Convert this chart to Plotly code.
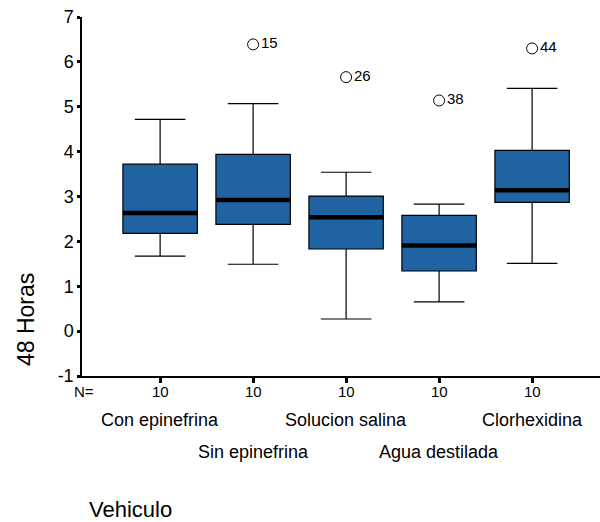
import plotly.graph_objects as go

categories = ["Con epinefrina", "Sin epinefrina", "Solucion salina", "Agua destilada", "Clorhexidina"]
n_values = [10, 10, 10, 10, 10]
lower_whisker = [1.67, 1.49, 0.27, 0.65, 1.51]
q1_values = [2.18, 2.38, 1.83, 1.34, 2.87]
median_values = [2.63, 2.92, 2.54, 1.91, 3.14]
q3_values = [3.72, 3.94, 3.01, 2.58, 4.03]
upper_whisker = [4.72, 5.07, 3.54, 2.83, 5.41]
outlier_x = [2, 3, 4, 5]
outlier_y = [6.39, 5.66, 5.14, 6.30]
outlier_id = ["15", "26", "38", "44"]
y_ticks = [-1, 0, 1, 2, 3, 4, 5, 6, 7]
y_tick_labels = ["-1", "0", "1", "2", "3", "4", "5", "6", "7"]

positions = list(range(1, len(categories) + 1))
box_color = "#1f63a3"
font_family = "Liberation Sans, Arial, sans-serif"

fig = go.Figure()
fig.add_trace(go.Box(
    x=positions,
    q1=q1_values, median=median_values, q3=q3_values,
    lowerfence=lower_whisker, upperfence=upper_whisker,
    width=0.8, whiskerwidth=0.68,
    fillcolor=box_color,
    line=dict(color="black", width=1.2),
    boxpoints=False, showlegend=False, hoverinfo="skip",
))

# thick median lines
mx, my = [], []
for p, m in zip(positions, median_values):
    mx += [p - 0.4, p + 0.4, None]
    my += [m, m, None]
fig.add_trace(go.Scatter(x=mx, y=my, mode="lines",
                         line=dict(color="black", width=4.5),
                         showlegend=False, hoverinfo="skip"))

# outliers
fig.add_trace(go.Scatter(
    x=outlier_x, y=outlier_y, mode="markers+text",
    marker=dict(symbol="circle-open", size=11, color="black", line=dict(width=1)),
    text=outlier_id, textposition="middle right",
    textfont=dict(family=font_family, size=15, color="black"),
    showlegend=False, hoverinfo="skip", cliponaxis=False,
))

annotations = []
# N row
annotations.append(dict(x=0, y=0, xref="paper", yref="paper", text="N=", showarrow=False,
                        xanchor="right", yanchor="middle", xshift=14, yshift=-15,
                        font=dict(family=font_family, size=15, color="black")))
for p, n in zip(positions, n_values):
    annotations.append(dict(x=p, y=0, xref="x", yref="paper", text=str(n), showarrow=False,
                            xanchor="center", yanchor="middle", yshift=-15,
                            font=dict(family=font_family, size=15, color="black")))
for i, (p, c) in enumerate(zip(positions, categories)):
    annotations.append(dict(x=p, y=0, xref="x", yref="paper", text=c, showarrow=False,
                            xanchor="center", yanchor="middle",
                            yshift=-44 if i % 2 == 0 else -76,
                            font=dict(family=font_family, size=18, color="black")))
annotations.append(dict(x=0, y=0, xref="paper", yref="paper", text="Vehiculo", showarrow=False,
                        xanchor="left", yanchor="middle", xshift=5, yshift=-133,
                        font=dict(family=font_family, size=22, color="black")))
annotations.append(dict(x=0, y=0, xref="paper", yref="paper", text="48 Horas", showarrow=False,
                        textangle=-90, xanchor="center", yanchor="middle",
                        xshift=-56, yshift=56,
                        font=dict(family=font_family, size=23, color="black")))

fig.update_layout(
    width=600, height=522,
    margin=dict(l=82, r=0, t=17, b=146, autoexpand=False),
    paper_bgcolor="white", plot_bgcolor="white",
    annotations=annotations,
    xaxis=dict(range=[0.16, 5.73], tickvals=positions, showticklabels=False,
               ticks="outside", ticklen=5, tickwidth=2.5, tickcolor="black",
               showline=True, linecolor="black", linewidth=1.5,
               showgrid=False, zeroline=False, fixedrange=True),
    yaxis=dict(range=[-1, 7], tickvals=y_ticks, ticktext=y_tick_labels,
               ticks="outside", ticklen=3, tickwidth=2.5,
               tickcolor="black", showline=True, linecolor="black", linewidth=1.5,
               showgrid=False, zeroline=False,
               tickfont=dict(family=font_family, size=18, color="black")),
)

fig.write_html("out.html", config={"displayModeBar": False},
               post_script="document.body.style.margin='0px';")
